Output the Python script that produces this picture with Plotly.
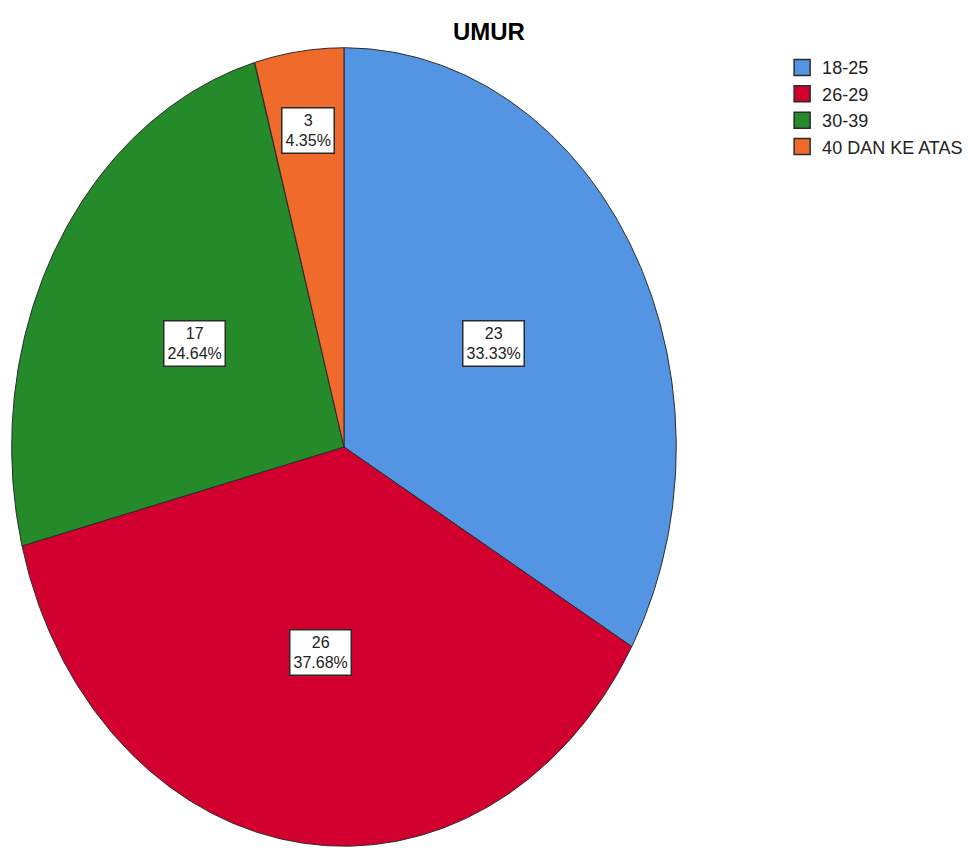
import numpy as np
import plotly.graph_objects as go

# data
categories = ["18-25", "26-29", "30-39", "40 DAN KE ATAS"]
counts = [23, 26, 17, 3]
percent_labels = ["33.33%", "37.68%", "24.64%", "4.35%"]
colours = ["#5394E3", "#D2002F", "#258A2A", "#F06A2C"]

EDGE = "#2b2b2b"
FONT = "Liberation Sans, Arial"
total = sum(counts)

fig = go.Figure()

# slices drawn clockwise from 12 o'clock, as in SPSS output
start = 0.0
label_pos = []
for cat, n, col in zip(categories, counts, colours):
    span = n / total * 2 * np.pi
    theta = np.linspace(start, start + span, 200)
    xs = np.concatenate([[0], np.sin(theta), [0]])
    ys = np.concatenate([[0], np.cos(theta), [0]])
    fig.add_trace(go.Scatter(
        x=xs, y=ys, mode="lines", fill="toself",
        fillcolor=col, line=dict(color=EDGE, width=1),
        hoverinfo="skip", showlegend=False,
    ))
    mid = start + span / 2
    r = 0.8 if n / total < 0.1 else 0.52
    label_pos.append((r * np.sin(mid), r * np.cos(mid)))
    start += span

# legend entries
for cat, col in zip(categories, colours):
    fig.add_trace(go.Scatter(
        x=[None], y=[None], mode="markers", name=cat,
        marker=dict(symbol="square", size=16, color=col,
                    line=dict(color=EDGE, width=1.5)),
    ))

for (lx, ly), n, p in zip(label_pos, counts, percent_labels):
    fig.add_annotation(
        x=lx, y=ly, text=f"{n}<br>{p}", showarrow=False,
        font=dict(size=16, color="#222", family=FONT),
        bgcolor="white", bordercolor=EDGE, borderwidth=1.5, borderpad=3,
    )

fig.update_layout(
    width=974, height=848,
    title=dict(text="<b>UMUR</b>", x=0.502, y=0.963, xanchor="center", yanchor="middle",
               font=dict(size=24, color="black", family=FONT)),
    margin=dict(l=0, r=0, t=0, b=0, autoexpand=False),
    plot_bgcolor="white", paper_bgcolor="white",
    xaxis=dict(domain=[0.0113, 0.695], range=[-1.002, 1.002], visible=False, fixedrange=True),
    yaxis=dict(domain=[0.0012, 0.9446], range=[-1.002, 1.002], visible=False, fixedrange=True),
    legend=dict(x=0.803, y=0.942, xanchor="left", yanchor="top",
                font=dict(size=18, color="#222", family=FONT),
                itemwidth=30, tracegroupgap=0),
    showlegend=True,
)

fig.write_html("out.html", config={"displayModeBar": False},
               post_script="document.body.style.margin='0';")
